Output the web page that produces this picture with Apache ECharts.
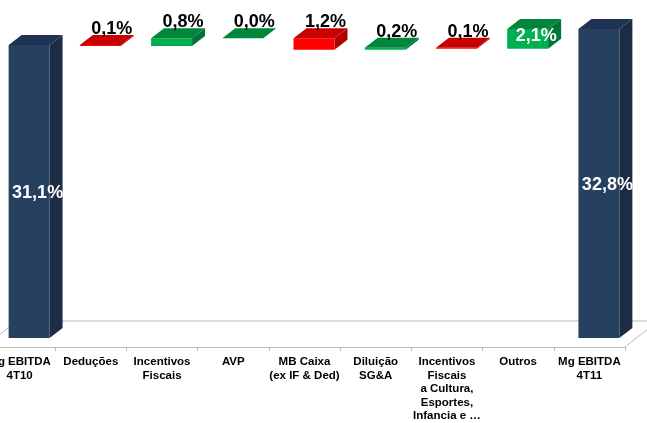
<!DOCTYPE html>
<html>
<head>
<meta charset="utf-8">
<script src="https://cdn.jsdelivr.net/npm/echarts@6/dist/echarts.min.js"></script>
<style>
  html, body { margin: 0; padding: 0; background: #ffffff; overflow: hidden; }
  /* the plot's left band starts just outside the visible page */
  #chart { width: 663px; height: 423px; margin-left: -16px; }
</style>
</head>
<body>
<div id="chart"></div>
<script>
// EBITDA margin bridge, 4T10 -> 4T11 (percentage points)
const categories = [
  'Mg EBITDA\n4T10',
  'Deduções',
  'Incentivos\nFiscais',
  'AVP',
  'MB Caixa\n(ex IF & Ded)',
  'Diluição\nSG&A',
  'Incentivos\nFiscais\na Cultura,\nEsportes,\nInfancia e …',
  'Outros',
  'Mg EBITDA\n4T11'
];
// first and last entries are totals, the rest are steps
const steps = [31.1, -0.1, 0.8, 0.0, -1.2, 0.2, -0.1, 2.1, 32.8];
const isTotal = [true, false, false, false, false, false, false, false, true];

// box colours: [front, top, side]
const NAVY = ['#26405F', '#1F3454', '#1B2C44'];
const GREEN = ['#00B050', '#00853D', '#007535'];
const RED = ['#FF0000', '#C80000', '#B00000'];

// 3D projection of the boxes inside the floor
const FRONT = [9.5, -9];   // front face offset from the axis baseline
const DEPTH = [13, -10];   // box depth
const FLOOR = [33, -26];   // floor depth

function fmt(v) {
  return Math.abs(v).toFixed(1).replace('.', ',') + '%';
}

// build floating ranges from the running total
const boxes = [];
let run = 0;
steps.forEach(function (v, i) {
  if (isTotal[i]) {
    boxes.push([i, 0, v]);
    run = v;
  } else {
    const start = run;
    run = Math.round((run + v) * 10) / 10;
    boxes.push([i, Math.min(start, run), Math.max(start, run)]);
  }
});

function pick(i) {
  if (isTotal[i]) return NAVY;
  return steps[i] >= 0 ? GREEN : RED;
}

function renderFloor(params, api) {
  const cs = params.coordSys;
  const yF = cs.y + cs.height;
  const xL = cs.x, xR = cs.x + cs.width;
  const st = { stroke: '#B9B9B9', lineWidth: 1, fill: null };
  return {
    type: 'group',
    children: [
      { type: 'line', shape: { x1: xL + FLOOR[0], y1: yF + FLOOR[1], x2: xR + FLOOR[0], y2: yF + FLOOR[1] }, style: st },
      { type: 'line', shape: { x1: xL, y1: yF, x2: xL + FLOOR[0], y2: yF + FLOOR[1] }, style: st },
      { type: 'line', shape: { x1: xR, y1: yF, x2: xR + FLOOR[0], y2: yF + FLOOR[1] }, style: st }
    ]
  };
}

function renderBox(params, api) {
  const i = api.value(0);
  const lo = api.value(1);
  const hi = api.value(2);
  const band = api.size([1, 0])[0];
  const w = band * 0.575;
  const base = api.coord([i, 0]);
  const x0 = base[0] - w / 2 + FRONT[0];
  const x1 = x0 + w;
  const yLo = api.coord([i, lo])[1] + FRONT[1];
  const yHi = api.coord([i, hi])[1] + FRONT[1];
  const dx = DEPTH[0], dy = DEPTH[1];
  const col = pick(i);
  const children = [
    { type: 'polygon', shape: { points: [[x1, yHi], [x1 + dx, yHi + dy], [x1 + dx, yLo + dy], [x1, yLo]] }, style: { fill: col[2] } },
    { type: 'rect', shape: { x: x0, y: yHi, width: w, height: Math.max(yLo - yHi, 0) }, style: { fill: col[0] } },
    { type: 'polygon', shape: { points: [[x0, yHi], [x1, yHi], [x1 + dx, yHi + dy], [x0 + dx, yHi + dy]] }, style: { fill: col[1] } }
  ];
  const h = yLo - yHi;
  const inside = h >= 18;
  const tx = base[0] + (inside ? 18 : 21);
  const ty = inside ? (yHi + yLo) / 2 + (isTotal[i] ? 2 : -3) : yHi - 16;
  children.push({
    type: 'text',
    z2: 10,
    style: {
      x: tx, y: ty,
      text: fmt(steps[i]),
      fill: inside ? '#ffffff' : '#000000',
      font: 'bold 18px "Liberation Sans", Arial, sans-serif',
      align: 'center',
      verticalAlign: 'middle'
    }
  });
  return { type: 'group', children: children };
}

const chart = echarts.init(document.getElementById('chart'), null, { renderer: 'canvas' });
chart.setOption({
  animation: false,
  backgroundColor: '#ffffff',
  grid: { left: 0, right: 22, top: 17.2, bottom: 74, containLabel: false },
  xAxis: {
    type: 'category',
    data: categories,
    axisLine: { show: true, lineStyle: { color: '#B9B9B9', width: 1 } },
    axisTick: { show: true, length: 4, lineStyle: { color: '#B9B9B9' } },
    axisLabel: {
      interval: 0,
      margin: 8.5,
      color: '#000000',
      fontFamily: '"Liberation Sans", Arial, sans-serif',
      fontWeight: 'bold',
      fontSize: 11.5,
      lineHeight: 13.5,
      align: 'center'
    },
    splitLine: { show: false }
  },
  yAxis: {
    type: 'value',
    min: 0,
    max: 35,
    show: false,
    splitLine: { show: false }
  },
  series: [
    {
      type: 'custom',
      renderItem: renderFloor,
      data: [[0, 0]],
      encode: { x: 0, y: 1 },
      silent: true,
      z: 1
    },
    {
      type: 'custom',
      renderItem: renderBox,
      data: boxes,
      encode: { x: 0, y: [1, 2] },
      clip: false,
      z: 2
    }
  ]
});
</script>
</body>
</html>
